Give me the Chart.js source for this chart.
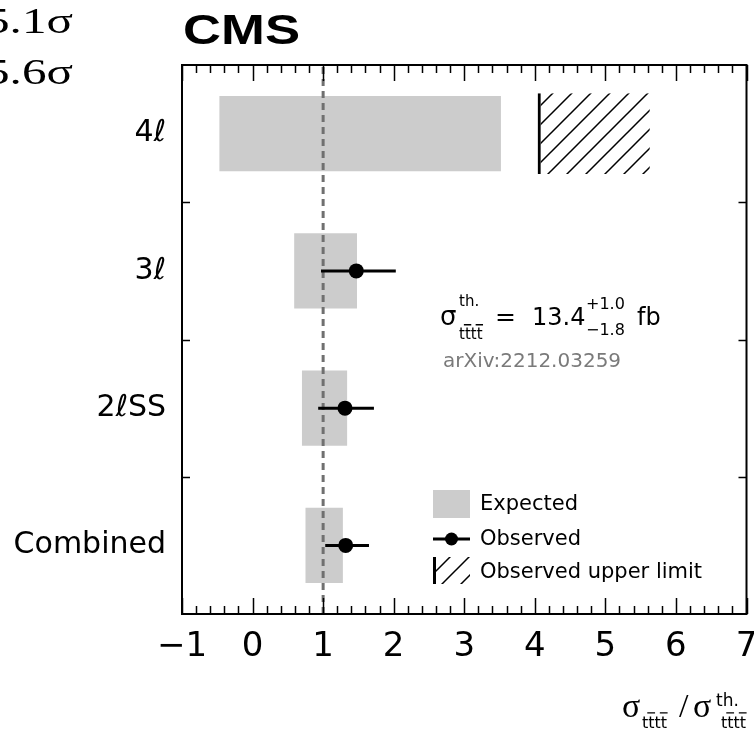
<!DOCTYPE html>
<html>
<head>
<meta charset="utf-8">
<script src="https://cdn.jsdelivr.net/npm/chart.js@4.4.0/dist/chart.umd.min.js"></script>
<style>
  html, body { margin: 0; padding: 0; background: #fff; }
  #wrap { width: 754px; height: 733px; }
</style>
</head>
<body>
<div id="wrap"><canvas id="chart"></canvas></div>
<script>
// channels, top to bottom
const channels = ['4ℓ', '3ℓ', '2ℓSS', 'Combined'];
// expected 68% interval on sigma / sigma_th
const expectedLow = [-0.47, 0.59, 0.70, 0.75];
const expectedHigh = [3.52, 1.48, 1.34, 1.28];
// observed value and its interval
const observed = [null, 1.47, 1.31, 1.32];
const observedLow = [null, 0.97, 0.93, 1.03];
const observedHigh = [null, 2.03, 1.72, 1.65];
// observed upper limit (4l only), hatched to the right
const upperLimit = [4.04, null, null, null];
const hatchEnd = [5.63, null, null, null];
const refValue = 1;
const xMin = -1, xMax = 7;
const sigmaLines = ['5.1σ', '5.6σ'];

const SANS = '"DejaVu Sans", sans-serif';
const SERIF = '"Liberation Serif", "DejaVu Serif", serif';

function makeHatch() {
  const s = 19;
  const c = document.createElement('canvas');
  c.width = s; c.height = s;
  const g = c.getContext('2d');
  g.strokeStyle = '#000';
  g.lineWidth = 1.5;
  g.beginPath();
  g.moveTo(-2, s + 2); g.lineTo(s + 2, -2);
  g.moveTo(-3, 3); g.lineTo(3, -3);
  g.moveTo(s - 3, s + 3); g.lineTo(s + 3, s - 3);
  g.stroke();
  return g.createPattern(c, 'repeat');
}
const hatch = makeHatch();

// text squeezed/stretched to span x0..x1
function fitText(ctx, text, x0, x1, y, font, color) {
  ctx.save();
  ctx.font = font;
  const w = ctx.measureText(text).width;
  ctx.translate(x0, y);
  ctx.scale((x1 - x0) / w, 1);
  ctx.fillStyle = color || '#000';
  ctx.textAlign = 'left';
  ctx.textBaseline = 'alphabetic';
  ctx.fillText(text, 0, 0);
  ctx.restore();
}

function text(ctx, str, x, y, font, color) {
  ctx.font = font;
  ctx.fillStyle = color || '#000';
  ctx.textAlign = 'left';
  ctx.textBaseline = 'alphabetic';
  ctx.fillText(str, x, y);
  return ctx.measureText(str).width;
}

// "tttt" with bars over the 2nd and 4th t
function tbar(ctx, x, y, size) {
  const font = size + 'px ' + SANS;
  const w = text(ctx, 'tttt', x, y, font);
  ctx.font = font;
  const cw = ctx.measureText('t').width;
  ctx.strokeStyle = '#000';
  ctx.lineWidth = 1.3;
  ctx.beginPath();
  [1, 3].forEach(k => {
    ctx.moveTo(x + k * cw - 1, y - size * 0.95);
    ctx.lineTo(x + (k + 1) * cw + 0.5, y - size * 0.95);
  });
  ctx.stroke();
  return w;
}

const decorations = {
  id: 'decorations',
  beforeDatasetDraw(chart, args) {
    if (args.meta.type !== 'line') return;
    const { ctx, chartArea: a, scales: { x, y } } = chart;
    ctx.save();
    const xr = x.getPixelForValue(refValue);
    ctx.strokeStyle = '#707070';
    ctx.lineWidth = 3;
    ctx.setLineDash([7, 5]);
    ctx.beginPath();
    ctx.moveTo(xr, a.top + 2);
    ctx.lineTo(xr, a.bottom);
    ctx.stroke();
    ctx.setLineDash([]);
    ctx.strokeStyle = '#000';
    ctx.lineWidth = 3;
    channels.forEach((c, i) => {
      if (observed[i] == null) return;
      const py = y.getPixelForValue(i);
      ctx.beginPath();
      ctx.moveTo(x.getPixelForValue(observedLow[i]), py);
      ctx.lineTo(x.getPixelForValue(observedHigh[i]), py);
      ctx.stroke();
    });
    ctx.restore();
  },
  afterDraw(chart) {
    const { ctx, chartArea: a, scales: { x, y } } = chart;
    ctx.save();

    // frame
    ctx.strokeStyle = '#000';
    ctx.lineWidth = 2;
    ctx.strokeRect(a.left, a.top, a.right - a.left, a.bottom - a.top);

    // x ticks, major every 1, minor every 0.2, top and bottom
    ctx.lineWidth = 1.5;
    ctx.beginPath();
    for (let k = xMin * 5; k <= xMax * 5; k++) {
      const px = Math.round(x.getPixelForValue(k / 5)) + 0.5;
      const len = k % 5 === 0 ? 16 : 8;
      ctx.moveTo(px, a.bottom); ctx.lineTo(px, a.bottom - len);
      ctx.moveTo(px, a.top); ctx.lineTo(px, a.top + len);
    }
    // y ticks at the channel boundaries
    for (let i = 1; i < channels.length; i++) {
      const py = Math.round((y.getPixelForValue(i - 1) + y.getPixelForValue(i)) / 2) + 0.5;
      ctx.moveTo(a.left, py); ctx.lineTo(a.left + 8, py);
      ctx.moveTo(a.right, py); ctx.lineTo(a.right - 8, py);
    }
    ctx.stroke();

    // CMS label and the cut-off significances
    fitText(ctx, 'CMS', 183, 300, 44, 'bold 42px "Liberation Sans", Arial, sans-serif');
    fitText(ctx, sigmaLines[0], -15, 73, 33, '35px ' + SERIF);
    fitText(ctx, sigmaLines[1], -15, 73, 84, '35px ' + SERIF);

    // cross section annotation
    text(ctx, 'σ', 440, 325, '26px ' + SANS);
    text(ctx, 'th.', 459, 306, '15px ' + SANS);
    tbar(ctx, 459, 339, 15);
    text(ctx, '=', 495, 325, '25px ' + SANS);
    text(ctx, '13.4', 532, 325, '24px ' + SANS);
    text(ctx, '+1.0', 586, 309, '16px ' + SANS);
    text(ctx, '−1.8', 586, 335, '16px ' + SANS);
    text(ctx, 'fb', 637, 325, '24px ' + SANS);
    text(ctx, 'arXiv:2212.03259', 443, 367, '20px ' + SANS, '#7a7a7a');

    // legend
    const ds = chart.data.datasets;
    const lx = 433, lw = 37;
    ctx.fillStyle = ds[2].backgroundColor;
    ctx.fillRect(lx, 490, lw, 28);
    text(ctx, ds[2].label, 480, 510, '21px ' + SANS);

    ctx.strokeStyle = '#000';
    ctx.lineWidth = 3;
    ctx.beginPath(); ctx.moveTo(lx, 539); ctx.lineTo(lx + lw, 539); ctx.stroke();
    ctx.fillStyle = ds[0].pointBackgroundColor;
    ctx.beginPath(); ctx.arc(lx + lw / 2, 539, 6.5, 0, Math.PI * 2); ctx.fill();
    text(ctx, ds[0].label, 480, 545, '21px ' + SANS);

    ctx.save();
    ctx.beginPath(); ctx.rect(lx, 557, lw, 27); ctx.clip();
    ctx.fillStyle = ds[1].backgroundColor;
    ctx.fillRect(lx, 557, lw, 27);
    ctx.restore();
    ctx.fillStyle = '#000';
    ctx.fillRect(lx, 557, 3, 27);
    text(ctx, ds[1].label, 480, 578, '21px ' + SANS);

    // x axis title
    text(ctx, 'σ', 622, 717, '34px ' + SERIF);
    tbar(ctx, 642, 728, 16);
    text(ctx, '/', 679, 717, '34px ' + SERIF);
    text(ctx, 'σ', 693, 717, '34px ' + SERIF);
    text(ctx, 'th.', 716, 706, '17px ' + SANS);
    tbar(ctx, 721, 728, 16);

    ctx.restore();
  }
};

new Chart(document.getElementById('chart'), {
  type: 'bar',
  data: {
    labels: channels,
    datasets: [
      {
        type: 'line',
        label: 'Observed',
        indexAxis: 'y',
        data: channels.map((c, i) => observed[i] == null ? null : { x: observed[i], y: c }).filter(Boolean),
        showLine: false,
        pointRadius: 7.5,
        pointHoverRadius: 7.5,
        pointBackgroundColor: '#000',
        pointBorderColor: '#000',
        pointBorderWidth: 0,
        order: 1
      },
      {
        label: 'Observed upper limit',
        data: channels.map((c, i) => upperLimit[i] == null ? null : [upperLimit[i], hatchEnd[i]]),
        backgroundColor: hatch,
        borderColor: '#000',
        borderWidth: { left: 3, right: 0, top: 0, bottom: 0 },
        borderSkipped: false,
        barPercentage: 0.59,
        categoryPercentage: 1,
        grouped: false,
        order: 2
      },
      {
        label: 'Expected',
        data: channels.map((c, i) => [expectedLow[i], expectedHigh[i]]),
        backgroundColor: '#cccccc',
        borderWidth: 0,
        barPercentage: 0.547,
        categoryPercentage: 1,
        grouped: false,
        order: 3
      }
    ]
  },
  options: {
    indexAxis: 'y',
    responsive: true,
    maintainAspectRatio: false,
    animation: false,
    layout: { padding: { top: 65, right: 4, left: 0, bottom: 0 } },
    scales: {
      x: {
        type: 'linear',
        position: 'bottom',
        min: xMin,
        max: xMax,
        grid: { display: false, drawTicks: false },
        border: { display: false },
        ticks: {
          stepSize: 1,
          maxRotation: 0,
          autoSkip: false,
          padding: 13,
          color: '#000',
          font: { family: 'DejaVu Sans', size: 34 },
          callback: v => v < 0 ? '−' + Math.abs(v) : String(v)
        },
        afterFit: s => { s.height = 119; s.paddingLeft = 0; s.paddingRight = 0; }
      },
      y: {
        type: 'category',
        grid: { display: false, drawTicks: false },
        border: { display: false },
        ticks: {
          padding: 16,
          color: '#000',
          font: { family: 'DejaVu Sans', size: 30 }
        },
        afterFit: s => { s.width = 182; s.paddingTop = 0; s.paddingBottom = 0; }
      }
    },
    plugins: {
      legend: { display: false },
      tooltip: { enabled: false }
    }
  },
  plugins: [decorations]
});
</script>
</body>
</html>
